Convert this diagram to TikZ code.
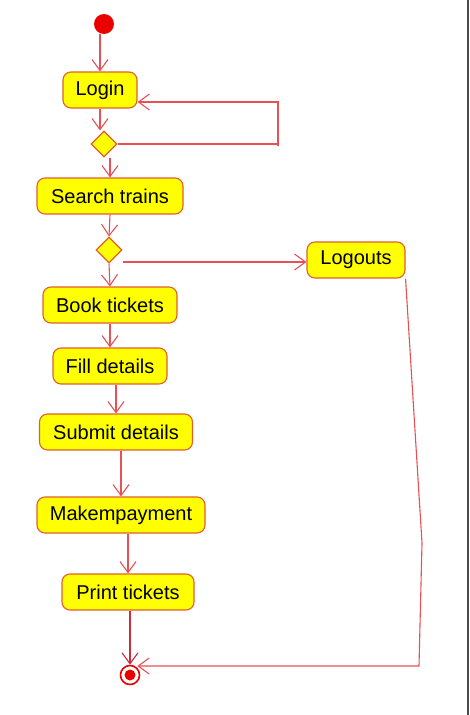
\documentclass[tikz,border=0pt]{standalone}
\usepackage{fontspec}
\setmainfont{Liberation Sans}
\usetikzlibrary{arrows.meta,shapes.geometric,calc}
\definecolor{boxfill}{RGB}{255,255,0}
\definecolor{boxline}{RGB}{225,95,45}
\definecolor{edge}{RGB}{232,80,85}
\definecolor{edgedark}{RGB}{205,45,55}
\definecolor{dotred}{RGB}{235,0,0}
\begin{document}
\begin{tikzpicture}[x=1pt,y=-1pt,
  act/.style={draw=boxline,fill=boxfill,line width=1.1pt,rounded corners=8pt,
    minimum height=36pt,inner sep=0pt,font=\fontsize{20}{22}\selectfont},
  dec/.style={diamond,draw=boxline,fill=boxfill,line width=1.1pt,
    minimum width=26pt,minimum height=26pt,inner sep=0pt},
  flow/.style={draw=edge,line width=1.1pt,-{Straight Barb[length=11pt,width=16pt]}}]
\useasboundingbox (0,0) rectangle (469,715);
\draw[black!70,line width=1.5pt] (468,0) -- (468,715);
% nodes
\node[circle,fill=dotred,minimum size=20pt,inner sep=0pt] (start) at (104,24) {};
\node[act,minimum width=74pt] (login) at (100,90) {Login};
\node[dec] (d1) at (104,144) {};
\node[act,minimum width=146pt] (search) at (110,196) {Search trains};
\node[dec] (d2) at (109,250) {};
\node[act,minimum width=98pt] (logout) at (356,260) {Logouts};
\node[act,minimum width=134pt] (book) at (110,305) {Book tickets};
\node[act,minimum width=114pt] (fill) at (110,366) {Fill details};
\node[act,minimum width=153pt] (submit) at (116,432) {Submit details};
\node[act,minimum width=168pt] (make) at (121,515) {Makempayment};
\node[act,minimum width=132pt] (print) at (128,592) {Print tickets};
\node[circle,draw=dotred,line width=1.6pt,minimum size=19pt,inner sep=0pt] (end) at (130,675) {};
\fill[dotred] (end.center) circle (5.5pt);
% coordinates
\coordinate (loopR1) at (278,146);
\coordinate (loopR2) at (278,102);
\coordinate (d2out) at (123,262);
\coordinate (r1) at (422,543);
\coordinate (r2) at (419,666);
% edges
\draw[flow] (start.south -| login.north) -- (login.north);
\draw[flow] (login.south) -- (login.south |- d1.north);
\draw[flow] (d1.east) -- (d1.east -| loopR1) -- (loopR1) -- (loopR2) -- (loopR2 -| login.east);
\draw[flow] (d1.south -| search.north) -- (search.north);
\draw[flow] (search.south) -- (d2.north);
\draw[flow] (d2out) -- (d2out -| logout.west);
\draw[flow] (d2.south) -- (book.north);
\draw[flow] (book.south) -- (fill.north);
\draw[flow] (fill.south -| submit.north) -- (submit.north);
\draw[flow] (submit.south -| make.north) -- (make.north);
\draw[flow] (make.south -| print.north) -- (print.north);
\draw[flow,draw=edgedark] (print.south -| end.north) -- (end.north);
\draw[flow] (logout.south east) -- (r1) -- (r2) -- (r2 -| end.north east);
\end{tikzpicture}
\end{document}
